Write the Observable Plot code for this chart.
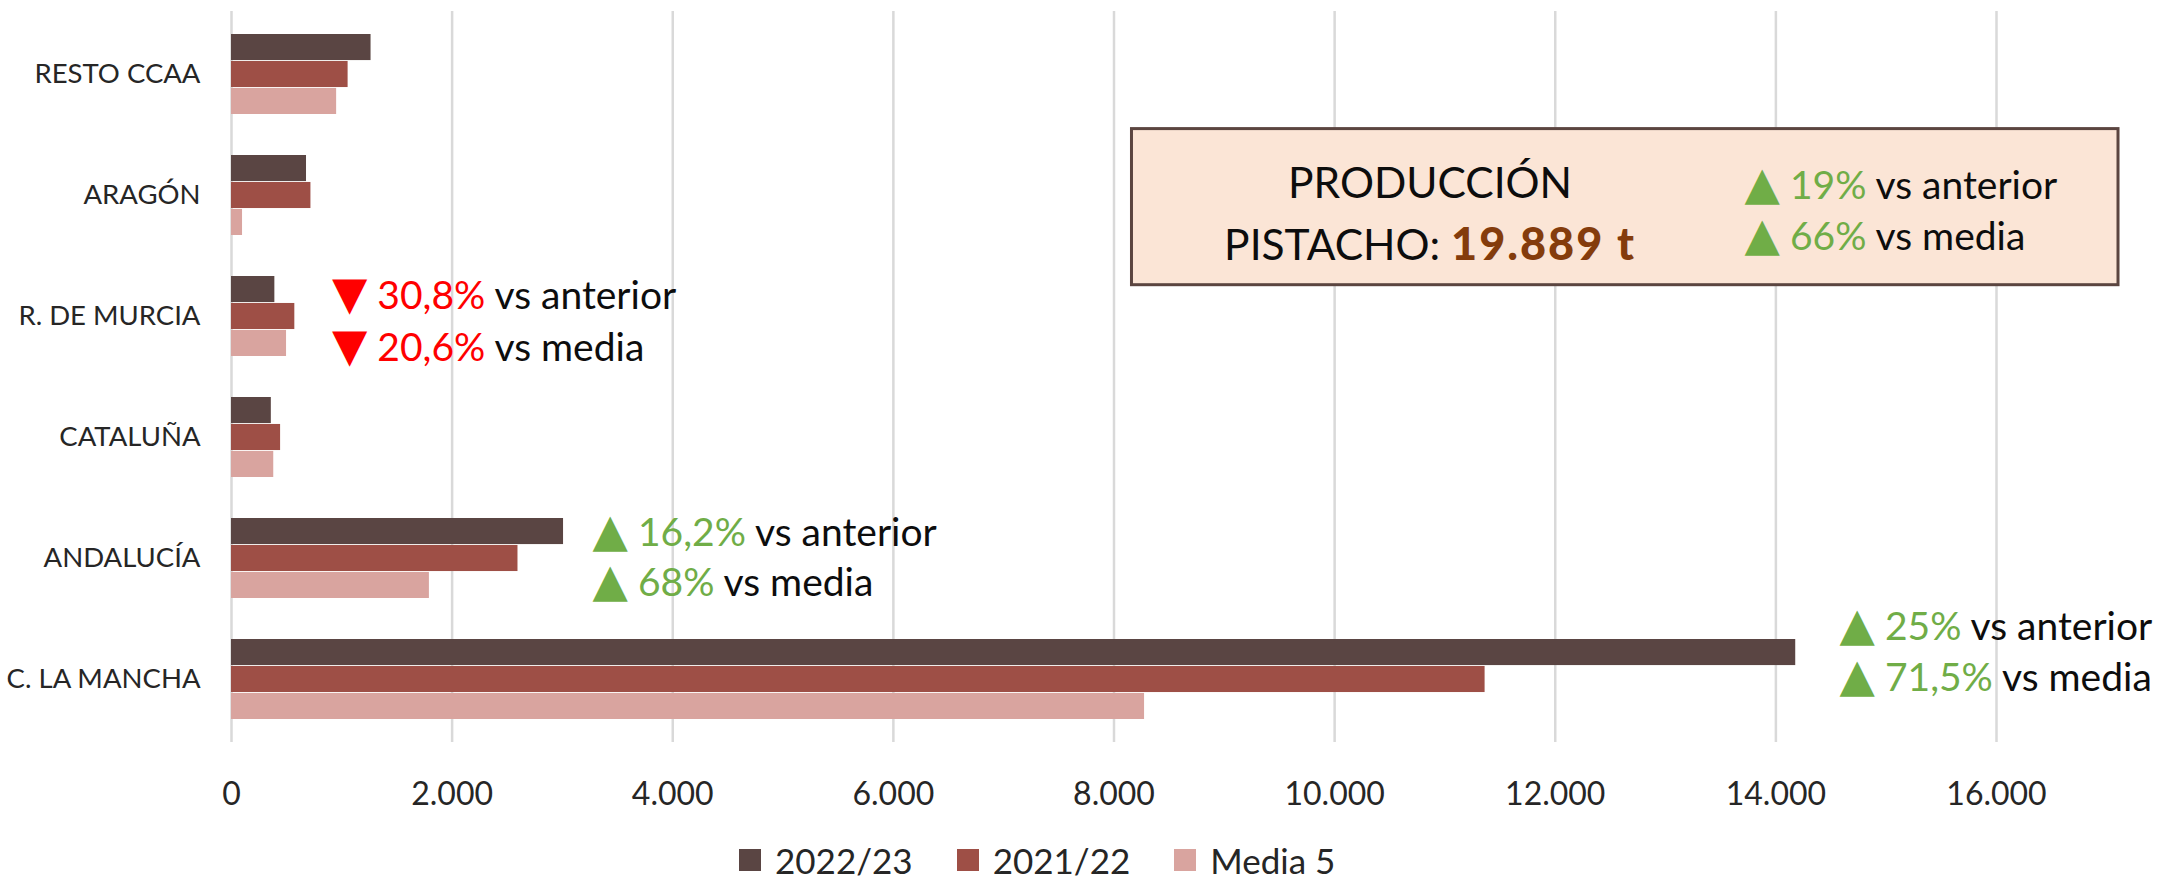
<!DOCTYPE html>
<html>
<head>
<meta charset="utf-8">
<script src="https://cdn.jsdelivr.net/npm/d3@7"></script>
<script src="https://cdn.jsdelivr.net/npm/@observablehq/plot@0.6"></script>
<style>
  html, body { margin: 0; padding: 0; background: #ffffff; }
  #wrap { position: relative; width: 2159px; height: 883px; overflow: hidden; font-family: Lato, "DejaVu Sans", sans-serif; }
  #legend { position: absolute; left: 739px; top: 842px; height: 36px; line-height: 1; display: flex; align-items: center; font-size: 35px; color: #262626; white-space: nowrap; }
  #legend .item { display: flex; align-items: center; margin-right: 44px; }
  #legend .sw { width: 22px; height: 22px; margin-right: 14px; }
  svg text { white-space: pre; }
</style>
</head>
<body>
<div id="wrap">
  <div id="chart"></div>
  <div id="legend"></div>
</div>
<script>
// ---------- DATA ----------
const regions = ["RESTO CCAA", "ARAGÓN", "R. DE MURCIA", "CATALUÑA", "ANDALUCÍA", "C. LA MANCHA"];
const series = ["2022/23", "2021/22", "Media 5"];
const values2022 = [1265, 680, 393, 361, 3010, 14180];
const values2021 = [1057, 720, 574, 445, 2597, 11364];
const valuesMedia = [953, 100, 499, 383, 1794, 8277];
const xTicks = [0, 2000, 4000, 6000, 8000, 10000, 12000, 14000, 16000];

// annotations (values as shown in the chart)
const annRegions = ["R. DE MURCIA", "ANDALUCÍA", "C. LA MANCHA"];
const annDirection = ["down", "up", "up"];
const annVsAnterior = ["30,8%", "16,2%", "25%"];
const annVsMedia = ["20,6%", "68%", "71,5%"];
const totalTitle = "PRODUCCIÓN";
const totalLabel = "PISTACHO: ";
const totalValue = "19.889 t";
const totalVsAnterior = "19%";
const totalVsMedia = "66%";

// ---------- STYLE / LAYOUT ----------
const colors = ["#5a4543", "#9e4f46", "#d9a49f"];
const green = "#70ad47", red = "#ff0000", brown = "#843c0c", ink = "#0d0d0d";
const W = 2159, H = 835, mt = 11, mb = 93, ml = 231, mr = 163;
const padIn = 0.336, padOut = 0.168;
const step = (H - mt - mb) / (regions.length - padIn + 2 * padOut);
const bw = step * (1 - padIn);
const third = bw / 3;

const rows = [];
regions.forEach((r, i) => {
  rows.push({region: r, series: series[0], value: values2022[i]});
  rows.push({region: r, series: series[1], value: values2021[i]});
  rows.push({region: r, series: series[2], value: valuesMedia[i]});
});

const locale = d3.formatLocale({decimal: ",", thousands: ".", grouping: [3], currency: ["", ""]});
const fmt = locale.format(",d");

// rich-text segments, referenced by key: [text, colour, kind]
const rich = {};
const annLayout = [ // x in data units, baseline offsets (px) from band centre
  {x: 911, dy: [-7.8, 44.2]},
  {x: 3273, dy: [-12.6, 37.4]},
  {x: 14577, dy: [-39.6, 11.4]}
];
const annMarks = [];
annRegions.forEach((r, i) => {
  const col = annDirection[i] === "up" ? green : red;
  const arrow = annDirection[i] === "up" ? "▲" : "▼";
  const k0 = "@a" + i + "0", k1 = "@a" + i + "1";
  rich[k0] = [[arrow, col, "arrow"], [" " + annVsAnterior[i], col], [" vs anterior", ink]];
  rich[k1] = [[arrow, col, "arrow"], [" " + annVsMedia[i], col], [" vs media", ink]];
  [k0, k1].forEach((k, j) => {
    annMarks.push(Plot.text([k], {
      x: () => annLayout[i].x, y: () => r, text: d => d,
      textAnchor: "start", lineAnchor: "bottom", dy: annLayout[i].dy[j],
      fontSize: 39, fill: ink
    }));
  });
});
rich["@t0"] = [[totalTitle, ink]];
rich["@t1"] = [[totalLabel, ink], [totalValue, brown, "bold"]];
rich["@t2"] = [["▲", green, "arrow"], [" " + totalVsAnterior, green], [" vs anterior", ink]];
rich["@t3"] = [["▲", green, "arrow"], [" " + totalVsMedia, green], [" vs media", ink]];
const boxRegion = "ARAGÓN";
const box = {x1: 8163, x2: 17106, top: -26.4, bottom: -49.7, cx: 10865, rx: 13716};

const chart = Plot.plot({
  width: W, height: H,
  marginLeft: ml, marginRight: mr, marginTop: mt, marginBottom: mb,
  style: {fontFamily: "Lato, 'DejaVu Sans', sans-serif", fontSize: "32px", color: "#262626", background: "#ffffff", overflow: "visible"},
  x: {domain: [0, 16000], label: null},
  y: {domain: regions, paddingInner: padIn, paddingOuter: padOut, label: null},
  marks: [
    Plot.gridX(xTicks, {stroke: "#d9d9d9", strokeOpacity: 1, strokeWidth: 2.5}),
    ...series.map((s, i) => Plot.barX(rows.filter(d => d.series === s), {
      x: "value", y: "region", fill: colors[i],
      insetTop: i * third, insetBottom: (2 - i) * third
    })),
    Plot.axisY({tickSize: 0, tickPadding: 31, fontSize: 27.5}),
    Plot.axisX({ticks: xTicks, tickFormat: fmt, tickSize: 0, tickPadding: 40, fontSize: 32}),
    ...annMarks,
    Plot.barX([0], {x1: () => box.x1, x2: () => box.x2, y: () => boxRegion,
      fill: "#fbe5d6", stroke: "#5b4540", strokeWidth: 3,
      insetTop: box.top, insetBottom: box.bottom}),
    Plot.text(["@t0"], {x: () => box.cx, y: () => boxRegion, text: d => d, textAnchor: "middle", lineAnchor: "bottom", dy: 2.2, fontSize: 42.5, fill: ink}),
    Plot.text(["@t1"], {x: () => box.cx, y: () => boxRegion, text: d => d, textAnchor: "middle", lineAnchor: "bottom", dy: 64.2, fontSize: 42.5, fill: ink}),
    Plot.text(["@t2"], {x: () => box.rx, y: () => boxRegion, text: d => d, textAnchor: "start", lineAnchor: "bottom", dy: 3.2, fontSize: 39, fill: ink}),
    Plot.text(["@t3"], {x: () => box.rx, y: () => boxRegion, text: d => d, textAnchor: "start", lineAnchor: "bottom", dy: 54.2, fontSize: 39, fill: ink})
  ]
});

// turn keyed texts into coloured tspans
d3.select(chart).selectAll("text").each(function () {
  const key = this.textContent;
  if (!rich[key]) return;
  const el = d3.select(this);
  el.text(null);
  rich[key].forEach(([t, c, kind]) => {
    const ts = el.append("tspan").attr("fill", c).text(t);
    if (kind === "bold") ts.attr("font-weight", 900).attr("font-size", 45).attr("letter-spacing", 2);
    if (kind === "arrow") ts.attr("font-family", "'DejaVu Sans', sans-serif").attr("font-size", 46);
  });
});

document.getElementById("chart").appendChild(chart);

// legend
const legend = d3.select("#legend");
series.forEach((s, i) => {
  const it = legend.append("div").attr("class", "item");
  it.append("div").attr("class", "sw").style("background", colors[i]);
  it.append("span").text(s);
});
</script>
</body>
</html>
